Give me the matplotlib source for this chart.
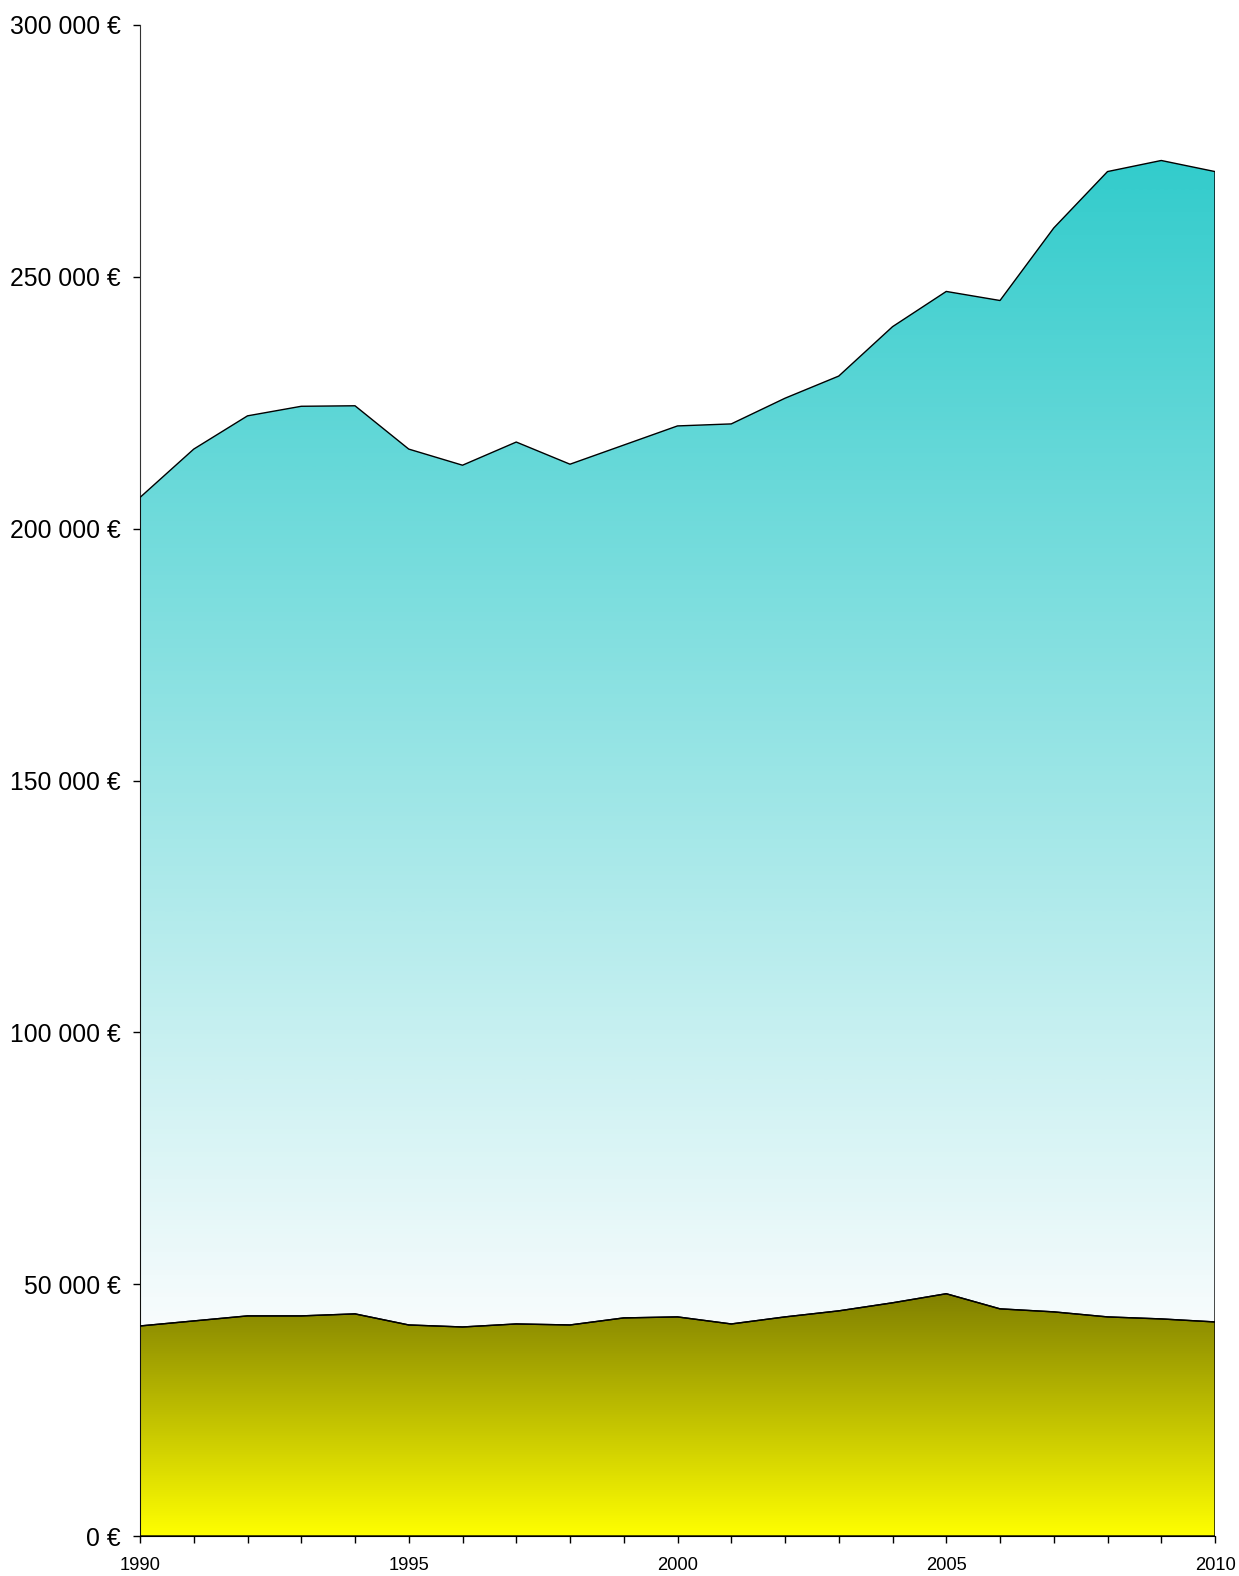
import numpy as np
import matplotlib
matplotlib.use("Agg")
from matplotlib import pyplot as plt
from matplotlib.colors import LinearSegmentedColormap

years = list(range(1990, 2011))
total = [206200, 215800, 222400, 224300, 224400, 215800, 212600, 217200, 212800, 216600,
         220400, 220800, 225900, 230300, 240100, 247100, 245300, 259700, 270900, 273100, 270900]
lower = [41700, 42700, 43700, 43700, 44100, 41900, 41500, 42100, 41900, 43300,
         43500, 42100, 43500, 44700, 46300, 48100, 45100, 44500, 43500, 43100, 42500]

yticks = [0, 50000, 100000, 150000, 200000, 250000, 300000]
ylabels = ["0 €", "50 000 €", "100 000 €", "150 000 €", "200 000 €", "250 000 €", "300 000 €"]

plt.rcParams['font.family'] = ['Liberation Sans', 'DejaVu Sans']

fig = plt.figure(figsize=(12.39, 15.76), dpi=100)
ax = fig.add_axes([140/1239, 40/1576, 1075/1239, 1511/1576])


def gradient_fill(x, y_top, y_bot, c_top, c_bot, g_top, g_bot):
    poly = ax.fill_between(x, y_bot, y_top, facecolor='none', edgecolor='black',
                           linewidth=1.0, zorder=3)
    cmap = LinearSegmentedColormap.from_list('g', [c_top, c_bot])
    grad = np.linspace(0, 1, 256).reshape(-1, 1)
    im = ax.imshow(grad, cmap=cmap, aspect='auto', origin='upper',
                   extent=[x[0], x[-1], g_bot, g_top], zorder=2, interpolation='bilinear')
    path = poly.get_paths()[0]
    im.set_clip_path(path, transform=ax.transData)
    return poly


gradient_fill(years, total, lower, '#33CCCC', '#F8FCFD', max(total), min(lower))
gradient_fill(years, lower, [0] * len(years), '#808000', '#FFFF00', max(lower), 0)

ax.set_xlim(1990, 2010)
ax.set_ylim(0, 300000)

ax.set_yticks(yticks)
ax.set_yticklabels(ylabels, fontsize=17.8)
ax.set_xticks(years)
ax.set_xticklabels([str(y) if y % 5 == 0 else '' for y in years], fontsize=13.2)
ax.tick_params(axis='y', length=5, width=1, pad=9, direction='out')
ax.tick_params(axis='x', length=5, width=1, pad=10, direction='out')

ax.spines['top'].set_visible(False)
ax.spines['right'].set_visible(False)
ax.spines['left'].set_color('#333333')
ax.spines['bottom'].set_color('black')
ax.set_facecolor('white')

fig.savefig('out.png', dpi=100)
